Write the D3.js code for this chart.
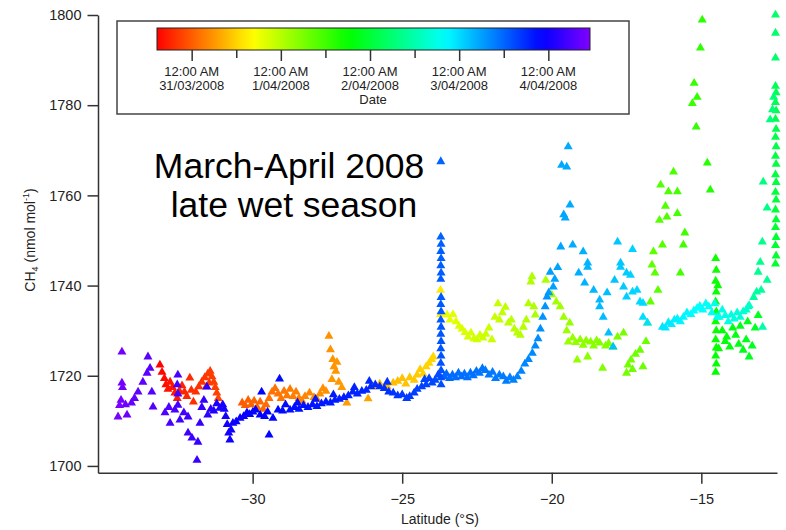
<!DOCTYPE html>
<html lang="en">
<head>
  <meta charset="utf-8">
  <title>CH4 vs latitude, March-April 2008</title>
  <script src="https://d3js.org/d3.v7.min.js"></script>
  <style>
    body { margin: 0; background: #fff; }
    text { font-family: "Liberation Sans", Arial, sans-serif; fill: #222; }
    .axis path, .axis line { stroke: #333; stroke-width: 1.5; }
    .axis text { font-size: 14.5px; fill: #222; }
    .cbar path { display: none; }
    .cbar line { stroke: #333; stroke-width: 1.5; }
  </style>
</head>
<body>
<div id="chart"></div>
<script>
// each point: [latitude (deg), CH4 (nmol/mol), hours since 30/03/2008 00:00]
const redLeg = [
  [-33.10,1722.4,15.0],[-33.03,1720.8,15.3],[-32.95,1719.4,15.6],[-32.90,1718.0,15.9],[-32.83,1717.0,16.2],
  [-32.76,1718.6,16.5],[-32.68,1717.4,16.8],[-32.60,1716.2,17.1],[-32.52,1715.0,17.4],[-32.45,1716.6,17.7],
  [-32.36,1717.8,18.0],[-32.28,1716.4,18.3],[-32.20,1715.4,18.6],[-32.10,1719.5,18.9],[-32.05,1716.8,19.1],
  [-31.98,1714.2,19.3],[-31.90,1716.4,19.5],[-31.80,1717.6,19.7],[-31.70,1718.6,19.9],[-31.60,1719.6,20.1],
  [-31.55,1717.6,20.2],[-31.50,1720.4,20.3],[-31.45,1718.4,20.4],[-31.42,1721.0,20.5],[-31.36,1719.8,20.7],
  [-31.30,1718.6,20.9],[-31.25,1717.4,21.1],[-31.20,1716.2,21.3],[-31.15,1715.0,21.5]
];
const orangeLeg = [
  [-30.35,1714.0,24.0],[-30.25,1713.4,24.2],[-30.15,1714.6,24.4],[-30.05,1713.6,24.6],[-29.95,1714.4,24.8],
  [-29.85,1713.0,25.0],[-29.75,1714.2,25.2],[-29.65,1712.6,25.4],[-29.55,1713.6,25.6],[-29.45,1715.0,25.8],
  [-29.35,1716.4,26.0],[-29.25,1717.2,26.2],[-29.15,1716.0,26.4],[-29.05,1715.0,26.6],[-28.95,1716.6,26.8],
  [-28.85,1715.6,27.0],[-28.75,1717.0,27.2],[-28.65,1715.4,27.4],[-28.55,1716.4,27.6],[-28.45,1715.0,27.8],
  [-28.35,1714.4,28.0],[-28.25,1715.4,28.2],[-28.10,1716.2,28.4],[-27.95,1715.2,28.6],[-27.85,1714.8,28.8],
  [-27.75,1716.0,29.0],[-27.65,1717.2,29.2],[-27.55,1716.6,29.3],[-27.45,1728.8,29.4],[-27.40,1725.8,29.5],
  [-27.32,1723.6,29.6],[-27.28,1722.0,29.7],[-27.22,1721.0,29.8],[-27.18,1723.0,29.9],[-27.35,1719.2,30.0],
  [-27.12,1718.6,30.1],[-27.02,1717.4,30.2],[-26.85,1714.0,30.5],[-26.14,1714.9,31.0]
];
const goldLeg = [
  [-26.00,1717.6,32.5],[-25.75,1718.2,33.0],[-25.50,1717.6,33.4],[-25.30,1718.4,33.7],[-25.15,1718.8,34.0],
  [-25.00,1719.4,34.3],[-24.88,1718.2,34.5],[-24.75,1719.6,34.7],[-24.60,1719.0,34.9],[-24.50,1720.2,35.2],
  [-24.40,1721.4,35.5],[-24.30,1720.4,35.8],[-24.20,1722.0,36.0],[-24.10,1722.8,36.2],[-24.02,1723.6,36.4],
  [-23.96,1724.2,36.6],[-23.72,1739.0,38.6],[-23.72,1733.6,39.0]
];
const limeLeg = [
  [-23.50,1733.5,43.0],[-23.40,1732.4,43.3],[-23.30,1733.6,43.5],[-23.20,1732.0,43.7],[-23.10,1731.0,43.9],
  [-23.00,1730.4,44.1],[-22.90,1729.6,44.3],[-22.80,1728.6,44.5],[-22.70,1729.5,44.7],[-22.60,1728.2,44.9],
  [-22.50,1728.0,45.1],[-22.40,1729.0,45.3],[-22.30,1728.4,45.5],[-22.20,1729.2,45.7],[-22.10,1730.6,45.9],
  [-22.00,1728.0,46.1],[-21.90,1733.0,46.3],[-21.80,1736.0,46.5],[-21.75,1732.4,46.6],[-21.65,1734.0,46.8],
  [-21.55,1735.2,47.0],[-21.45,1731.7,47.2],[-21.35,1732.4,47.4],[-21.25,1730.4,47.6],[-21.15,1729.5,47.8],
  [-21.05,1729.0,48.0],[-20.95,1730.8,48.2],[-20.85,1732.4,48.4],[-20.78,1736.0,48.5],[-20.70,1740.8,48.7],
  [-20.66,1742.0,48.8],[-20.60,1735.3,48.9],[-20.55,1733.5,49.0]
];
const yellowGreenLeg = [
  [-20.20,1741.2,49.2],[-20.00,1738.0,49.5],[-19.85,1736.4,49.8],[-19.72,1735.3,50.1],[-19.60,1733.0,50.4],
  [-19.50,1730.0,50.6],[-19.45,1727.5,50.8],[-19.40,1731.7,51.0],[-19.30,1728.4,51.2],[-19.20,1727.4,51.4],
  [-19.15,1723.5,51.5],[-19.05,1728.0,51.7],[-18.95,1726.8,51.9],[-18.85,1727.8,52.1],[-18.80,1724.2,52.2],
  [-18.70,1727.5,52.4],[-18.60,1726.6,52.6],[-18.50,1727.8,52.8],[-18.40,1727.3,53.0],[-18.30,1721.7,53.2],
  [-18.20,1726.6,53.4],[-18.10,1727.2,53.6],[-17.95,1726.4,53.9],[-17.80,1728.6,54.1],[-17.60,1729.5,54.4],
  [-17.50,1720.6,54.6],[-17.45,1722.4,54.7],[-17.35,1723.5,54.9],[-17.30,1721.4,55.0],[-17.20,1724.8,55.2],
  [-17.05,1725.7,55.4],[-16.95,1722.0,55.6],[-16.85,1727.6,55.8]
];
const greenLeg = [
  [-16.80,1731.7,56.0],[-16.70,1736.4,56.3],[-16.65,1744.6,56.6],[-16.60,1747.5,56.9],[-16.55,1742.8,57.1],
  [-16.45,1739.0,57.3],[-16.40,1754.5,57.6],[-16.30,1749.0,57.8],[-16.36,1762.3,58.0],[-16.20,1757.6,58.2],
  [-16.15,1755.2,58.4],[-16.10,1760.8,58.6],[-15.93,1765.2,59.0],[-15.80,1760.8,59.3],[-15.80,1756.0,59.5],
  [-15.70,1742.8,59.7],[-15.60,1749.0,60.0],[-15.55,1751.7,60.2],[-15.30,1780.4,60.6],[-15.24,1784.9,60.9],
  [-15.17,1775.2,61.2],[-15.14,1781.8,61.4],[-15.03,1792.7,61.8],[-14.97,1798.9,62.1],[-14.80,1767.2,62.5],
  [-14.70,1761.2,63.0]
];
const greenColumn = [
  [-14.52,1746.0,65.0],[-14.50,1743.4,65.1],[-14.52,1741.0,65.2],[-14.45,1740.0,65.3],[-14.50,1738.6,65.4],
  [-14.52,1736.4,65.5],[-14.50,1734.2,65.6],[-14.52,1732.0,65.7],[-14.50,1730.0,65.8],[-14.52,1728.0,65.9],
  [-14.50,1726.2,66.0],[-14.42,1726.0,66.1],[-14.52,1724.4,66.2],[-14.50,1722.6,66.3],[-14.52,1720.8,66.4]
];
const greenCluster = [
  [-14.30,1730.0,67.0],[-14.20,1727.6,67.3],[-14.15,1728.6,67.5],[-14.05,1726.4,67.8],[-13.95,1730.6,68.0],
  [-13.85,1729.0,68.3],[-13.75,1727.0,68.5],[-13.70,1731.0,68.7],[-13.60,1725.7,68.9],[-13.50,1728.0,69.1],
  [-13.45,1732.0,69.3],[-13.40,1724.2,69.5],[-13.30,1726.6,69.7],[-13.20,1730.6,69.9],[-13.10,1733.4,70.1]
];
const northColumn = [
  [-12.52,1744.8,71.0],[-12.50,1746.6,71.2],[-12.52,1748.9,71.4],[-12.50,1750.7,71.6],[-12.52,1752.9,71.8],
  [-12.50,1754.6,72.0],[-12.52,1756.8,72.2],[-12.50,1759.0,72.4],[-12.52,1760.7,72.6],[-12.50,1762.9,72.8],
  [-12.52,1764.6,73.0],[-12.50,1766.9,73.2],[-12.52,1768.7,73.4],[-12.50,1770.8,73.6],[-12.52,1772.9,73.8],
  [-12.50,1774.7,74.0],[-12.52,1776.9,74.2],[-12.50,1778.8,74.4],[-12.52,1780.6,74.6],[-12.50,1782.8,74.8],
  [-12.52,1784.2,75.0]
];
const tealLeg = [
  [-12.52,1800.0,77.0],[-12.52,1796.0,77.3],[-12.52,1790.5,77.6],[-12.58,1781.8,78.0],[-12.62,1779.0,78.3],
  [-12.70,1776.8,78.6],[-12.93,1763.0,79.5],[-12.80,1757.2,80.0],[-12.96,1749.7,80.6],[-13.03,1745.2,81.0],
  [-13.10,1743.0,81.4],[-12.80,1741.2,81.8],[-13.00,1739.0,82.2],[-13.25,1737.4,82.6],[-13.15,1738.6,83.0],
  [-12.95,1730.8,83.4],[-13.43,1735.3,84.0]
];
const cyanLeg = [
  [-13.40,1735.6,87.0],[-13.50,1734.6,87.4],[-13.60,1734.2,87.8],[-13.70,1733.0,88.2],[-13.80,1734.0,88.5],
  [-13.90,1732.6,88.8],[-14.00,1733.5,89.1],[-14.10,1732.0,89.4],[-14.20,1733.4,89.7],[-14.30,1734.6,90.0],
  [-14.40,1733.0,90.3],[-14.47,1733.0,90.5],[-14.55,1736.0,90.7],[-14.65,1734.0,91.0],[-14.75,1735.3,91.3],
  [-14.85,1736.0,91.5],[-14.95,1734.6,91.8],[-15.05,1735.4,92.0],[-15.14,1735.0,92.3],[-15.25,1734.4,92.5],
  [-15.35,1733.6,92.8],[-15.48,1734.0,93.0],[-15.60,1733.0,93.3],[-15.70,1732.0,93.6],[-15.80,1732.6,93.8],
  [-15.90,1732.4,94.0],[-16.00,1731.4,94.3],[-16.10,1731.8,94.5],[-16.20,1730.6,94.8],[-16.30,1730.8,95.0]
];
const skyLeg = [
  [-16.80,1731.7,95.5],[-16.95,1733.0,95.8],[-16.95,1736.1,96.0],[-17.05,1736.4,96.2],[-17.15,1739.0,96.4],
  [-17.30,1738.6,96.6],[-17.30,1748.0,96.8],[-17.37,1742.3,97.0],[-17.50,1737.5,97.2],[-17.50,1742.8,97.4],
  [-17.60,1739.7,97.6],[-17.70,1744.1,97.8],[-17.70,1745.0,98.0],[-17.80,1749.7,98.2],[-17.90,1741.2,98.4],
  [-17.95,1726.4,98.6],[-18.10,1729.5,98.8],[-18.15,1738.4,99.0],[-18.28,1733.0,99.2],[-18.40,1735.3,99.4],
  [-18.40,1736.8,99.5],[-18.60,1739.0,99.7],[-18.80,1745.0,99.9],[-18.80,1744.1,100.0],[-18.90,1740.6,100.2],
  [-18.95,1747.5,100.4],[-19.10,1742.8,100.6],[-19.30,1749.0,100.8],[-19.39,1757.9,100.9],[-19.45,1770.8,101.0],
  [-19.50,1766.3,101.1],[-19.67,1766.7,101.2],[-19.60,1755.7,101.3],[-19.55,1755.0,101.4],[-19.70,1748.6,101.5],
  [-19.80,1744.0,101.6],[-19.90,1741.4,101.8],[-19.95,1739.7,102.0],[-20.05,1743.0,102.2],[-20.10,1738.4,102.4]
];
const blueLeg = [
  [-20.16,1737.5,103.0],[-20.22,1735.3,103.2],[-20.30,1733.0,103.4],[-20.38,1730.4,103.6],[-20.46,1728.2,103.8],
  [-20.55,1726.6,104.0],[-20.65,1725.0,104.2],[-20.78,1723.6,104.4],[-20.90,1722.6,104.6],[-21.02,1721.0,104.8],
  [-21.15,1719.8,105.0],[-21.28,1719.0,105.2],[-21.40,1719.6,105.4],[-21.52,1718.8,105.5],[-21.62,1719.8,105.6],
  [-21.75,1720.2,105.8],[-21.88,1719.4,105.9],[-21.98,1720.8,106.0],[-22.10,1720.2,106.1],[-22.22,1721.2,106.2],
  [-22.32,1721.6,106.3],[-22.42,1720.6,106.4],[-22.52,1721.0,106.5],[-22.62,1720.0,106.6],[-22.72,1720.6,106.7],
  [-22.82,1719.6,106.8],[-22.92,1720.4,106.9],[-23.02,1719.8,107.0],[-23.12,1720.6,107.1],[-23.22,1719.6,107.2],
  [-23.32,1720.2,107.4],[-23.42,1719.4,107.6],[-23.52,1720.4,107.8],[-23.60,1719.8,108.0]
];
const blueColumn = [
  [-23.71,1767.5,108.2],[-23.71,1750.8,108.3],[-23.70,1749.2,108.4],[-23.71,1747.6,108.5],[-23.70,1746.0,108.6],
  [-23.71,1744.4,108.7],[-23.70,1742.8,108.8],[-23.71,1741.4,108.9],[-23.70,1737.4,109.0],[-23.71,1735.8,109.1],
  [-23.70,1734.2,109.2],[-23.71,1732.4,109.3],[-23.70,1730.8,109.4],[-23.71,1729.2,109.5],[-23.70,1727.6,109.6],
  [-23.71,1726.0,109.7],[-23.70,1724.4,109.8],[-23.71,1722.8,109.9],[-23.70,1721.2,110.0],[-23.71,1719.6,110.1],
  [-23.70,1718.0,110.2]
];
const blueBand = [
  [-23.80,1720.2,110.6],[-23.90,1719.0,110.8],[-24.00,1718.4,111.0],[-24.10,1719.4,111.2],[-24.20,1718.0,111.4],
  [-24.35,1717.6,111.6],[-24.50,1717.0,111.8],[-24.60,1716.2,112.0],[-24.75,1715.4,112.2],[-24.85,1715.0,112.4],
  [-25.00,1715.8,112.6],[-25.15,1715.6,112.8],[-25.30,1716.2,113.0],[-25.45,1716.4,113.2],[-25.60,1717.2,113.4],
  [-25.75,1717.6,113.6],[-25.90,1718.0,113.8],[-26.05,1717.6,114.0],[-26.20,1716.8,114.2],[-26.35,1716.6,114.4],
  [-26.50,1716.0,114.6],[-26.65,1716.4,114.8],[-26.80,1715.6,115.0],[-26.95,1715.2,115.2],[-27.10,1714.8,115.4],
  [-27.25,1714.6,115.5],[-27.40,1714.0,115.6],[-27.55,1714.2,115.8],[-27.70,1713.8,115.9],[-27.85,1713.2,116.0],
  [-28.00,1713.6,116.2],[-28.15,1713.0,116.3],[-28.30,1713.4,116.5],[-28.45,1712.6,116.6],[-28.60,1713.0,116.8],
  [-28.75,1712.4,116.9],[-28.90,1713.6,117.1],[-29.00,1712.2,117.2],
  [-24.25,1719.2,111.5],[-25.50,1718.6,113.3],[-26.10,1718.8,114.1],[-26.60,1717.4,114.7],[-27.30,1715.8,115.5],
  [-27.90,1714.8,116.1],[-28.50,1714.0,116.7]
];
const blueSouth = [
  [-29.10,1719.3,117.3],[-29.15,1712.4,117.5],[-29.32,1710.6,117.7],[-29.45,1706.9,117.8],[-29.50,1712.0,117.9],
  [-29.60,1711.0,118.0],[-29.70,1716.4,118.1],[-29.75,1711.3,118.2],[-29.90,1712.4,118.4],[-29.99,1712.0,118.5],
  [-30.10,1711.4,118.7],[-30.19,1711.8,118.8],[-30.30,1711.0,119.0],[-30.42,1710.6,119.2],[-30.55,1709.8,119.4],
  [-30.66,1709.5,119.6],[-30.72,1708.0,119.7],[-30.76,1705.8,119.8],[-30.80,1707.3,119.9],[-30.85,1709.2,120.0],
  [-30.90,1711.0,120.2],[-30.95,1712.6,120.4],[-31.00,1713.6,120.6],[-31.10,1712.8,120.8],[-31.20,1713.8,121.0],
  [-31.30,1712.2,121.2]
];
const violetLeg = [
  [-31.40,1712.6,122.6],[-31.50,1711.3,122.9],[-31.53,1717.5,123.1],[-31.63,1714.6,123.3],[-31.70,1713.0,123.5],
  [-31.76,1709.5,123.7],[-31.83,1705.3,123.9],[-31.86,1701.3,124.1],[-32.03,1706.2,124.3],[-32.16,1707.3,124.5],
  [-32.16,1710.9,124.6],[-32.30,1711.8,124.7],[-32.43,1710.2,124.9],[-32.50,1713.5,125.1],[-32.50,1716.0,125.3],
  [-32.52,1718.0,125.4],[-32.50,1720.2,125.5],[-32.60,1712.4,125.7],[-32.76,1709.5,125.9],[-32.80,1713.0,126.1],
  [-32.93,1711.8,126.3],[-33.33,1713.1,126.8],[-33.37,1716.4,127.0],[-33.43,1721.7,127.2],[-33.50,1724.2,127.4],
  [-33.53,1720.6,127.6],[-33.67,1718.6,127.8],[-33.83,1716.4,128.0],[-33.95,1715.0,128.3],[-34.05,1714.0,128.6],
  [-34.20,1711.3,129.0],[-34.25,1713.6,129.3],[-34.37,1718.4,129.6],[-34.35,1717.4,129.7],[-34.37,1725.3,129.9],
  [-34.40,1714.6,130.1],[-34.50,1710.9,130.4],[-34.45,1713.4,130.6]
];

const yTicks = [1700, 1720, 1740, 1760, 1780, 1800];
const xTicks = [-30, -25, -20, -15];
const dateTicks = [new Date(2008, 2, 31), new Date(2008, 3, 1), new Date(2008, 3, 2), new Date(2008, 3, 3), new Date(2008, 3, 4)];
const noonTicks = [new Date(2008, 2, 31, 12), new Date(2008, 3, 1, 12), new Date(2008, 3, 2, 12), new Date(2008, 3, 3, 12)];
const dateRange = [new Date(2008, 2, 30, 14, 40), new Date(2008, 3, 4, 11, 13)];
const tripStart = new Date(2008, 2, 30);

const width = 786, height = 530;
const svg = d3.select("#chart").append("svg")
  .attr("width", width)
  .attr("height", height);

const x = d3.scaleLinear().domain([-35.17, -12.47]).range([98, 777]);
const y = d3.scaleLinear().domain([1698.5, 1800]).range([472.7, 15]);
const dateScale = d3.scaleTime().domain(dateRange).range([157, 590]);

// Igor style rainbow: red -> violet
const hueOf = t => d3.hsl(270 * Math.max(0, Math.min(1, t)), 1, 0.5).toString();
const colourOfDate = dt => hueOf((dt - dateRange[0]) / (dateRange[1] - dateRange[0]));

const points = [].concat(redLeg, orangeLeg, goldLeg, limeLeg, yellowGreenLeg, greenLeg, greenColumn,
    greenCluster, northColumn, tealLeg, cyanLeg, skyLeg, blueLeg, blueColumn, blueBand, blueSouth, violetLeg)
  .map(p => ({ lat: p[0], ch4: p[1], date: new Date(+tripStart + p[2] * 3600e3) }))
  .sort((a, b) => a.date - b.date);

const tri = d3.symbol().type(d3.symbolTriangle).size(35);

svg.selectAll(".pt")
  .data(points)
  .enter().append("path")
  .attr("class", "pt")
  .attr("d", tri)
  .attr("transform", d => "translate(" + x(d.lat) + "," + y(d.ch4) + ")")
  .attr("fill", d => colourOfDate(d.date));

// axes
svg.append("g")
  .attr("class", "axis")
  .attr("transform", "translate(0,472.7)")
  .call(d3.axisBottom(x).tickValues(xTicks).tickSize(11).tickSizeOuter(0).tickPadding(10));

svg.append("g")
  .attr("class", "axis")
  .attr("transform", "translate(98,0)")
  .call(d3.axisLeft(y).tickValues(yTicks).tickFormat(d3.format("d"))
    .tickSize(10.5).tickSizeOuter(0).tickPadding(6));

svg.append("text")
  .attr("x", 440)
  .attr("y", 524)
  .attr("text-anchor", "middle")
  .style("font-size", "14px")
  .text("Latitude (°S)");

const ylab = svg.append("text")
  .attr("transform", "translate(35,240) rotate(-90)")
  .attr("text-anchor", "middle")
  .style("font-size", "14px");
ylab.append("tspan").text("CH");
ylab.append("tspan").attr("dy", 3).style("font-size", "9px").text("4");
ylab.append("tspan").attr("dy", -3).text(" (nmol mol");
ylab.append("tspan").attr("dy", -6).style("font-size", "9px").text("-1");
ylab.append("tspan").attr("dy", 6).text(")");

// annotation
svg.append("text")
  .attr("x", 289)
  .attr("y", 178)
  .attr("text-anchor", "middle")
  .style("font-size", "35.5px")
  .style("fill", "#000")
  .text("March-April 2008");
svg.append("text")
  .attr("x", 294)
  .attr("y", 217)
  .attr("text-anchor", "middle")
  .style("font-size", "35.5px")
  .style("fill", "#000")
  .text("late wet season");

// colour legend
svg.append("rect")
  .attr("x", 117).attr("y", 21)
  .attr("width", 512).attr("height", 93)
  .attr("fill", "white")
  .attr("stroke", "#444")
  .attr("stroke-width", 1.5);

const grad = svg.append("defs").append("linearGradient").attr("id", "rainbow");
grad.selectAll("stop")
  .data(d3.range(0, 1.0001, 1 / 40))
  .enter().append("stop")
  .attr("offset", d => d)
  .attr("stop-color", d => hueOf(d));

svg.append("rect")
  .attr("x", 157).attr("y", 28)
  .attr("width", 433).attr("height", 22)
  .attr("fill", "url(#rainbow)")
  .attr("stroke", "#222")
  .attr("stroke-width", 1);

svg.append("g")
  .attr("class", "cbar")
  .attr("transform", "translate(0,50)")
  .call(d3.axisBottom(dateScale).tickValues(dateTicks).tickSize(11).tickFormat(""));

svg.append("g")
  .attr("class", "cbar")
  .attr("transform", "translate(0,50)")
  .call(d3.axisBottom(dateScale).tickValues(noonTicks).tickSize(8).tickFormat(""));

const fmt = d3.timeFormat("%-d/%m/%Y");
svg.selectAll(".tlab")
  .data(dateTicks)
  .enter().append("text")
  .attr("class", "tlab")
  .attr("x", d => dateScale(d))
  .attr("y", 76)
  .attr("text-anchor", "middle")
  .style("font-size", "13px")
  .text("12:00 AM");

svg.selectAll(".dlab")
  .data(dateTicks)
  .enter().append("text")
  .attr("class", "dlab")
  .attr("x", d => dateScale(d))
  .attr("y", 90)
  .attr("text-anchor", "middle")
  .style("font-size", "13px")
  .text(d => fmt(d));

svg.append("text")
  .attr("x", 373)
  .attr("y", 104)
  .attr("text-anchor", "middle")
  .style("font-size", "13px")
  .text("Date");
</script>
</body>
</html>
